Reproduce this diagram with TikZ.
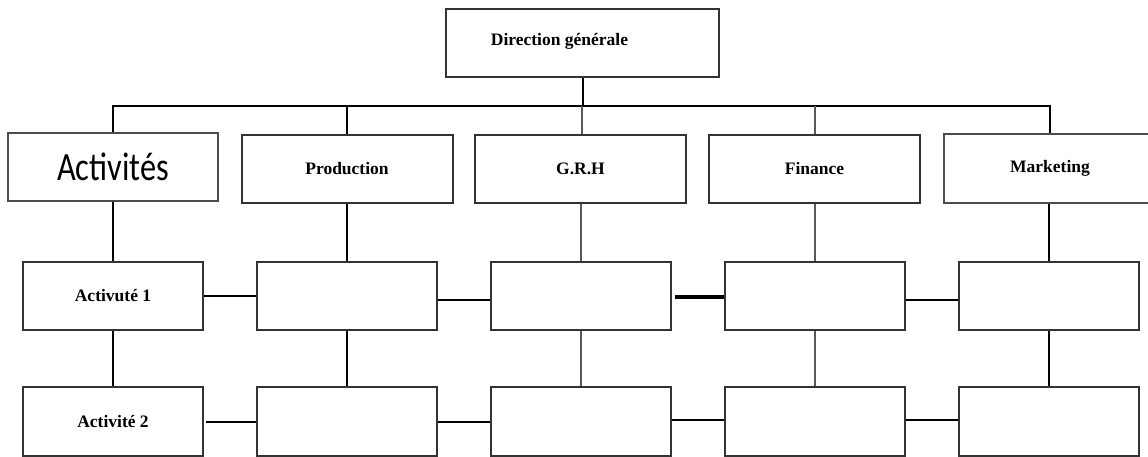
\documentclass[tikz,border=0pt]{standalone}
\usepackage{fontspec}
\setmainfont{Liberation Serif}
\newfontfamily\calib{Carlito}
\begin{document}
\begin{tikzpicture}[x=1pt,y=-1pt,
  orgbox/.style={draw=black!80, line width=2pt, fill=white, inner sep=0pt,
    minimum width=211pt, minimum height=68pt,
    font=\fontsize{17.5}{20}\selectfont\bfseries},
  lightbox/.style={orgbox, draw=black!70, line width=1.3pt},
  cellbox/.style={orgbox, minimum width=180pt, minimum height=68pt},
  bus/.style={line width=2pt, black},
  thinlink/.style={line width=1.2pt, black!65},
  boldlink/.style={line width=3.5pt, black},
  lbl/.style={inner sep=0pt, font=\fontsize{17.5}{20}\selectfont\bfseries}]
\useasboundingbox (0,0) rectangle (1148,457);

% top of the chart
\node[orgbox, minimum width=273pt] (dg) at (582.5,43) {};
\node[lbl] (dgtext) at (559.5,41) {Direction générale};

% functions row
\node[lightbox, minimum width=210pt] (act) at (113,167) {\calib\fontsize{40}{44}\selectfont\mdseries\scalebox{0.81}[1]{Activités}};
\node[orgbox] (prod) at (347,169) {Production};
\node[orgbox] (grh)  at (580.5,169) {G.R.H};
\node[orgbox] (fin)  at (814.5,169) {Finance};
\node[lightbox, minimum width=212pt, minimum height=69pt] (mkt) at (1050,168.5) {Marketing};

% activity rows
\node[cellbox] (a1) at (113,296) {Activuté 1};
\node[cellbox] (p1) at (347,296) {};
\node[cellbox] (g1) at (581,296) {};
\node[cellbox] (f1) at (815,296) {};
\node[cellbox] (m1) at (1049,296) {};

\node[cellbox, minimum height=69pt] (a2) at (113,421.5) {Activité 2};
\node[cellbox, minimum height=69pt] (p2) at (347,421.5) {};
\node[cellbox, minimum height=69pt] (g2) at (581,421.5) {};
\node[cellbox, minimum height=69pt] (f2) at (815,421.5) {};
\node[cellbox, minimum height=69pt] (m2) at (1049,421.5) {};

% hierarchy bus
\coordinate (bus) at (583,106);
\draw[bus] (dg.south -| bus) -- (bus);
\draw[bus] (act.north) -- (act.north |- bus) -- (mkt.north |- bus) -- (mkt.north);
\draw[bus] (prod.north) -- (prod.north |- bus);
\draw[thinlink] ([xshift=1.5pt]grh.north) -- ([xshift=1.5pt]grh.north |- bus);
\draw[thinlink] ([xshift=0.5pt]fin.north) -- ([xshift=0.5pt]fin.north |- bus);

% columns
\draw[bus] (act.south) -- (a1.north);
\draw[bus] (a1.south) -- (a2.north);
\draw[bus] (prod.south) -- (p1.north);
\draw[bus] (p1.south) -- (p2.north);
\draw[thinlink] (grh.south -| g1.north) -- (g1.north);
\draw[thinlink] (g1.south) -- (g2.north);
\draw[thinlink] (fin.south -| f1.north) -- (f1.north);
\draw[thinlink] (f1.south) -- (f2.north);
\draw[bus] (mkt.south -| m1.north) -- (m1.north);
\draw[bus] (m1.south) -- (m2.north);

% row links
\draw[bus] (a1.east) -- (p1.west);
\draw[bus] ([yshift=-4pt]p1.east) -- ([yshift=-4pt]g1.west);
\draw[boldlink, shorten <=3pt] ([yshift=-1pt]g1.east) -- ([yshift=-1pt]f1.west);
\draw[bus] ([yshift=-4pt]f1.east) -- ([yshift=-4pt]m1.west);

\draw[bus, shorten <=2pt] (a2.east) -- (p2.west);
\draw[bus] (p2.east) -- (g2.west);
\draw[bus] ([yshift=2pt]g2.east) -- ([yshift=2pt]f2.west);
\draw[bus] ([yshift=2pt]f2.east) -- ([yshift=2pt]m2.west);
\end{tikzpicture}
\end{document}
